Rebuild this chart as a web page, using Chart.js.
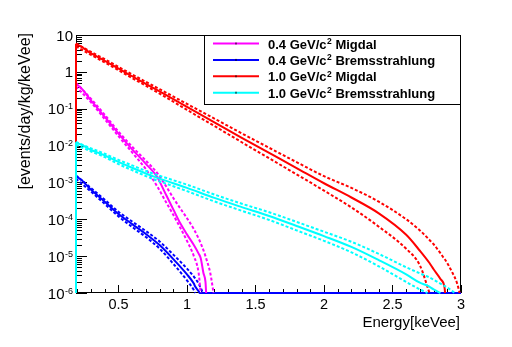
<!DOCTYPE html>
<html>
<head>
<meta charset="utf-8">
<script src="https://cdn.jsdelivr.net/npm/chart.js@4.4.0/dist/chart.umd.min.js"></script>
<style>body{margin:0;background:#fff}</style>
</head>
<body>
<canvas id="myChart" width="512" height="347"></canvas>
<script>
var FONT = '"Liberation Sans", Arial, sans-serif';

var seriesLabels = ["0.4 GeV/c² Migdal", "0.4 GeV/c² Bremsstrahlung", "1.0 GeV/c² Migdal", "1.0 GeV/c² Bremsstrahlung"];
var seriesColors = ["#ff00ff", "#0000ff", "#ff0000", "#00ffff"];

// 0.4 GeV/c2 Migdal (central, upper, lower)
var eMig04 = [0.19, 0.19, 0.3, 0.4, 0.5, 0.6, 0.7, 0.78, 0.85, 0.9, 0.95, 1.0, 1.05, 1.085, 1.1, 1.12, 1.135, 1.14, 1.17, 1.194];
var mig04 = [1e-6, 0.45, 0.166, 0.060, 0.021, 7.9e-3, 3.2e-3, 1.45e-3, 4.4e-4, 1.86e-4, 7.9e-5, 3.9e-5, 2.0e-5, 1.17e-5, 8.9e-6, 3.5e-6, 2.0e-6, 1e-6, null, null];
var mig04Up = [null, 0.50, 0.185, 0.068, 0.024, 9.3e-3, 3.9e-3, 1.85e-3, 7.6e-4, 3.8e-4, 2.0e-4, 1.07e-4, 5.4e-5, 3.0e-5, 2.24e-5, 1.45e-5, 1.0e-5, 8.7e-6, 3.5e-6, 1e-6];
var mig04Lo = [null, 0.40, 0.148, 0.052, 0.018, 6.5e-3, 2.3e-3, 8.1e-4, 2.8e-4, 1.32e-4, 6.0e-5, 2.6e-5, 1.0e-5, 3.5e-6, 1e-6, null, null, null, null, null];

// 0.4 GeV/c2 Bremsstrahlung
var eBrem04 = [0.19, 0.19, 0.3, 0.4, 0.5, 0.6, 0.7, 0.8, 0.9, 1.0, 1.05, 1.06, 1.085, 1.092, 1.117, 3.0];
var brem04 = [1e-6, 1.4e-3, 6.3e-4, 3.0e-4, 1.4e-4, 7.4e-5, 4.0e-5, 2.0e-5, 8.3e-6, 3.2e-6, 1.8e-6, 1.5e-6, 1.12e-6, 1e-6, 1e-6, 1e-6];
var brem04Up = [null, 1.55e-3, 7.0e-4, 3.4e-4, 1.6e-4, 8.7e-5, 4.8e-5, 2.5e-5, 1.1e-5, 4.6e-6, 2.8e-6, 2.5e-6, 1.8e-6, 1.6e-6, 1e-6, null];
var brem04Lo = [null, 1.25e-3, 5.6e-4, 2.6e-4, 1.2e-4, 6.2e-5, 3.3e-5, 1.6e-5, 6.2e-6, 2.2e-6, 1.2e-6, 1e-6, null, null, null, null];

// 1.0 GeV/c2 Migdal
var eMig10 = [0.19, 0.19, 0.3, 0.4, 0.6, 0.8, 1.0, 1.2, 1.4, 1.6, 1.8, 2.0, 2.2, 2.4, 2.6, 2.7, 2.77, 2.8, 2.85, 2.88, 2.884, 2.93, 2.97, 2.99];
var mig10 = [1e-6, 5.4, 3.16, 2.0, 0.76, 0.295, 0.112, 0.0427, 0.0162, 6.3e-3, 2.45e-3, 9.5e-4, 3.9e-4, 1.45e-4, 3.8e-5, 1.4e-5, 6.5e-6, 4.4e-6, 2.4e-6, 1.4e-6, 1e-6, null, null, null];
var mig10Up = [null, 5.9, 3.47, 2.2, 0.85, 0.34, 0.135, 0.054, 0.0214, 8.7e-3, 3.55e-3, 1.48e-3, 7.1e-4, 3.0e-4, 1.0e-4, 5.0e-5, 2.75e-5, 2.1e-5, 1.2e-5, 8.3e-6, 8.0e-6, 4.0e-6, 1.9e-6, 1e-6];
var mig10Lo = [null, 4.9, 2.88, 1.8, 0.68, 0.257, 0.093, 0.034, 0.0123, 4.5e-3, 1.66e-3, 6.0e-4, 2.1e-4, 6.3e-5, 1.58e-5, 5.6e-6, 1e-6, null, null, null, null, null, null, null];

// 1.0 GeV/c2 Bremsstrahlung
var eBrem10 = [0.19, 0.19, 0.3, 0.4, 0.5, 0.6, 0.75, 0.9, 1.0, 1.2, 1.4, 1.6, 1.8, 2.0, 2.2, 2.4, 2.6, 2.7, 2.755, 2.8, 2.85, 2.9, 2.955];
var brem10 = [1e-6, 1.15e-2, 7.6e-3, 5.4e-3, 3.6e-3, 2.5e-3, 1.48e-3, 9.5e-4, 7.1e-4, 3.8e-4, 2.14e-4, 1.23e-4, 6.6e-5, 3.5e-5, 1.78e-5, 7.8e-6, 3.2e-6, 1.9e-6, 1.58e-6, 1.26e-6, 1e-6, null, null];
var brem10Up = [null, 1.25e-2, 8.4e-3, 6.0e-3, 4.1e-3, 2.9e-3, 1.75e-3, 1.15e-3, 8.7e-4, 4.7e-4, 2.65e-4, 1.55e-4, 8.5e-5, 4.6e-5, 2.45e-5, 1.15e-5, 5.0e-6, 3.4e-6, 2.8e-6, 2.3e-6, 1.8e-6, 1.4e-6, 1e-6];
var brem10Lo = [null, 1.05e-2, 6.9e-3, 4.85e-3, 3.15e-3, 2.15e-3, 1.25e-3, 7.9e-4, 5.8e-4, 3.05e-4, 1.7e-4, 9.6e-5, 5.0e-5, 2.6e-5, 1.27e-5, 5.3e-6, 2.0e-6, 1.25e-6, 1e-6, null, null, null, null];

var xTickValues = [0.5, 1, 1.5, 2, 2.5, 3];
var xTickLabels = ["0.5", "1", "1.5", "2", "2.5", "3"];
var yTickValues = [10, 1, 1e-1, 1e-2, 1e-3, 1e-4, 1e-5, 1e-6];
var yTickLabels = [["10", ""], ["1", ""], ["10", "-1"], ["10", "-2"], ["10", "-3"], ["10", "-4"], ["10", "-5"], ["10", "-6"]];

function pts(xs, ys) {
    var out = [];
    for (var i = 0; i < xs.length; i++) {
        if (ys[i] !== null) out.push({x: xs[i], y: ys[i]});
    }
    return out;
}

function curve(xs, ys, color, dashed) {
    return {
        data: pts(xs, ys),
        borderColor: color,
        borderWidth: 2,
        borderDash: dashed ? [3, 2] : [],
        pointRadius: 0,
        fill: false,
        clip: false,
        cubicInterpolationMode: 'monotone'
    };
}

// first dataset is drawn on top
var datasets = [
    curve(eBrem10, brem10, seriesColors[3], false),
    curve(eBrem10, brem10Up, seriesColors[3], true),
    curve(eBrem10, brem10Lo, seriesColors[3], true),
    curve(eMig10, mig10, seriesColors[2], false),
    curve(eMig10, mig10Up, seriesColors[2], true),
    curve(eMig10, mig10Lo, seriesColors[2], true),
    curve(eMig04, mig04, seriesColors[0], false),
    curve(eMig04, mig04Up, seriesColors[0], true),
    curve(eMig04, mig04Lo, seriesColors[0], true),
    curve(eBrem04, brem04, seriesColors[1], false),
    curve(eBrem04, brem04Up, seriesColors[1], true),
    curve(eBrem04, brem04Lo, seriesColors[1], true)
];

var decor = {
    id: 'decor',
    beforeDatasetsDraw: function (chart) {
        var ctx = chart.ctx, a = chart.chartArea, xs = chart.scales.x, ys = chart.scales.y;
        ctx.save();
        ctx.strokeStyle = '#000';
        ctx.lineWidth = 1;
        ctx.strokeRect(a.left + 0.5, a.top + 0.5, a.right - a.left - 1, a.bottom - a.top - 1);
        ctx.beginPath();
        for (var i = 2; i <= 30; i++) {
            var px = Math.round(xs.getPixelForValue(i / 10)) + 0.5;
            var len = i % 5 === 0 ? 8 : 4;
            ctx.moveTo(px, a.bottom);
            ctx.lineTo(px, a.bottom - len);
        }
        for (var d = -6; d <= 1; d++) {
            for (var k = 1; k <= 9; k++) {
                var v = k * Math.pow(10, d);
                if (v > 10.0001) break;
                var py = Math.round(ys.getPixelForValue(v)) + 0.5;
                ctx.moveTo(a.left, py);
                ctx.lineTo(a.left + (k === 1 ? 11 : 6), py);
            }
        }
        ctx.stroke();
        ctx.restore();
    },
    afterDraw: function (chart) {
        var ctx = chart.ctx, a = chart.chartArea, xs = chart.scales.x, ys = chart.scales.y;
        ctx.save();
        ctx.fillStyle = '#000';
        ctx.textBaseline = 'alphabetic';

        // x tick labels
        ctx.font = '14.5px ' + FONT;
        ctx.textAlign = 'center';
        xTickValues.forEach(function (v, i) {
            ctx.fillText(xTickLabels[i], xs.getPixelForValue(v), 309);
        });

        // y tick labels with exponents
        yTickValues.forEach(function (v, i) {
            var py = ys.getPixelForValue(v);
            var base = yTickLabels[i][0], exp = yTickLabels[i][1];
            var right = 73;
            if (exp) {
                ctx.font = '9px ' + FONT;
                var ew = ctx.measureText(exp).width;
                ctx.textAlign = 'left';
                ctx.fillText(exp, right - ew, py + 0.5);
                ctx.font = '15px ' + FONT;
                ctx.textAlign = 'right';
                ctx.fillText(base, right - ew - 0.5, py + 5.5);
            } else {
                ctx.font = '15px ' + FONT;
                ctx.textAlign = 'right';
                ctx.fillText(base, right, py + 5.5);
            }
        });

        // axis titles
        ctx.font = '15px ' + FONT;
        ctx.textAlign = 'right';
        ctx.fillText('Energy[keVee]', 460, 327);
        ctx.save();
        ctx.translate(30, 33);
        ctx.rotate(-Math.PI / 2);
        ctx.font = '16px ' + FONT;
        ctx.textAlign = 'right';
        ctx.fillText('[events/day/kg/keVee]', 0, 0);
        ctx.restore();

        // legend box
        ctx.fillStyle = '#fff';
        ctx.fillRect(204, 35, 256, 69);
        ctx.strokeStyle = '#000';
        ctx.lineWidth = 1;
        ctx.strokeRect(204.5, 35.5, 256, 69);
        seriesLabels.forEach(function (lab, i) {
            var y = 43.5 + 16.4 * i;
            ctx.strokeStyle = seriesColors[i];
            ctx.lineWidth = 2;
            ctx.beginPath();
            ctx.moveTo(213, y);
            ctx.lineTo(259, y);
            ctx.stroke();
            ctx.fillStyle = '#000';
            ctx.fillRect(235.5, y - 1, 1, 2);
            var parts = lab.split('²');
            var x = 268;
            ctx.textAlign = 'left';
            ctx.font = 'bold 13px ' + FONT;
            ctx.fillText(parts[0], x, y + 5);
            x += ctx.measureText(parts[0]).width;
            ctx.font = 'bold 8.5px ' + FONT;
            ctx.fillText('2', x + 0.5, y + 0.5);
            x += ctx.measureText('2').width + 0.5;
            ctx.font = 'bold 13px ' + FONT;
            ctx.fillText(parts[1], x, y + 5);
        });
        ctx.restore();
    }
};

new Chart("myChart", {
    type: "line",
    data: { datasets: datasets },
    options: {
        responsive: false,
        animation: false,
        layout: { padding: { left: 76, top: 35, right: 51, bottom: 54 } },
        plugins: {
            legend: { display: false },
            tooltip: { enabled: false }
        },
        scales: {
            x: { type: 'linear', min: 0.19, max: 3, display: false },
            y: { type: 'logarithmic', min: 1e-6, max: 10, display: false }
        }
    },
    plugins: [decor]
});
</script>
</body>
</html>
